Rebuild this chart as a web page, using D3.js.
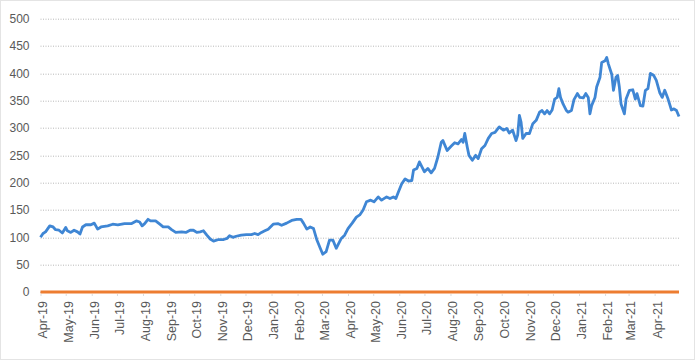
<!DOCTYPE html>
<html>
<head>
<meta charset="utf-8">
<script src="https://cdn.jsdelivr.net/npm/d3@7"></script>
<style>
  body { margin: 0; background: #fff; }
  text { font-family: "Liberation Sans", Arial, sans-serif; fill: #595959; }
</style>
</head>
<body>
<div id="chart"></div>
<script>
// dates (roughly every few days)
var dates = [
  "2019-04-01","2019-04-04","2019-04-07","2019-04-12","2019-04-16","2019-04-19","2019-04-23","2019-04-27",
  "2019-05-01","2019-05-03","2019-05-07","2019-05-11","2019-05-15","2019-05-18","2019-05-21","2019-05-25","2019-05-31",
  "2019-06-04","2019-06-08","2019-06-12","2019-06-20","2019-06-26",
  "2019-07-02","2019-07-10","2019-07-18","2019-07-24","2019-07-28","2019-07-31",
  "2019-08-03","2019-08-07","2019-08-10","2019-08-16","2019-08-21","2019-08-25","2019-08-31",
  "2019-09-04","2019-09-09","2019-09-16","2019-09-21","2019-09-26","2019-09-30",
  "2019-10-04","2019-10-08","2019-10-12","2019-10-16","2019-10-20","2019-10-24","2019-10-30",
  "2019-11-05","2019-11-09","2019-11-12","2019-11-16","2019-11-20","2019-11-26",
  "2019-12-02","2019-12-08","2019-12-12","2019-12-16","2019-12-20","2019-12-24","2019-12-28",
  "2020-01-03","2020-01-09","2020-01-13","2020-01-19","2020-01-25","2020-01-31",
  "2020-02-05","2020-02-08","2020-02-12","2020-02-16","2020-02-20","2020-02-24","2020-02-28",
  "2020-03-02","2020-03-06","2020-03-10","2020-03-14","2020-03-18","2020-03-24","2020-03-28",
  "2020-04-01","2020-04-06","2020-04-11","2020-04-15","2020-04-19","2020-04-23","2020-04-28",
  "2020-05-02","2020-05-07","2020-05-11","2020-05-17","2020-05-21","2020-05-25","2020-05-28","2020-05-31",
  "2020-06-04","2020-06-08","2020-06-12","2020-06-16","2020-06-18","2020-06-22","2020-06-25","2020-06-28",
  "2020-07-01","2020-07-05","2020-07-09","2020-07-13","2020-07-17","2020-07-21","2020-07-23","2020-07-28",
  "2020-08-02","2020-08-06","2020-08-10","2020-08-14","2020-08-16","2020-08-18","2020-08-21","2020-08-23","2020-08-27","2020-08-31",
  "2020-09-03","2020-09-07","2020-09-11","2020-09-15","2020-09-19","2020-09-23","2020-09-28",
  "2020-10-03","2020-10-07","2020-10-10","2020-10-14","2020-10-18","2020-10-20","2020-10-22","2020-10-24","2020-10-26","2020-10-30",
  "2020-11-03","2020-11-07","2020-11-11","2020-11-15","2020-11-18","2020-11-21","2020-11-24","2020-11-27","2020-11-30",
  "2020-12-03","2020-12-06","2020-12-08","2020-12-10","2020-12-13","2020-12-17","2020-12-19","2020-12-23","2020-12-26","2020-12-30",
  "2021-01-02","2021-01-06","2021-01-09","2021-01-12","2021-01-14","2021-01-16","2021-01-20","2021-01-22","2021-01-26","2021-01-28",
  "2021-02-01","2021-02-03","2021-02-05","2021-02-09","2021-02-11","2021-02-14","2021-02-16","2021-02-18","2021-02-20","2021-02-24","2021-02-26",
  "2021-03-02","2021-03-06","2021-03-09","2021-03-11","2021-03-15","2021-03-18","2021-03-21","2021-03-24","2021-03-27","2021-03-31",
  "2021-04-03","2021-04-07","2021-04-10","2021-04-13","2021-04-17","2021-04-21","2021-04-24","2021-04-27","2021-04-30"
];

var values = [
  100,107,110,121,119,114,113,108,
  118,112,109,113,110,106,119,123,123,
  126,115,119,121,124,
  123,125,125,130,128,121,
  125,133,130,130,124,119,119,
  114,109,110,109,113,113,
  109,110,112,104,97,93,96,
  96,98,103,100,102,104,
  105,105,107,105,109,112,115,
  124,125,122,126,131,133,
  133,126,115,119,116,95,80,
  69,74,95,95,80,98,104,
  116,126,137,141,150,165,168,
  165,174,168,174,171,174,171,183,
  198,207,203,204,223,226,238,229,
  220,226,218,226,247,274,277,259,
  267,273,271,279,274,290,265,250,241,250,
  244,262,268,281,290,292,302,
  296,299,291,296,277,287,323,311,281,290,
  290,308,314,329,332,326,332,326,333,
  353,356,372,356,344,332,329,332,352,363,
  356,355,363,356,326,341,356,375,393,420,
  423,429,417,398,369,393,396,375,344,326,353,
  369,370,353,363,341,340,369,372,400,396,
  387,365,356,369,353,333,335,332,321
];

// second series sits on zero the whole way
var baseValue = 0;

var yTicks = [0, 50, 100, 150, 200, 250, 300, 350, 400, 450, 500];
var startDate = "2019-04-01", endDate = "2021-04-30";

var W = 696, H = 362;
var margin = { top: 18.7, right: 17, bottom: 70, left: 40.5 };
var width = W - margin.left - margin.right,
  height = H - margin.top - margin.bottom;

var parse = d3.timeParse("%Y-%m-%d");
var data = dates.map(function (d, i) {
  return { date: parse(d), value: values[i] };
});

var svg = d3
  .select("#chart")
  .append("svg")
  .attr("width", W)
  .attr("height", H);

// outer chart border
svg
  .append("rect")
  .attr("x", 0.5)
  .attr("y", 0.5)
  .attr("width", W - 2)
  .attr("height", H - 3)
  .attr("fill", "none")
  .attr("stroke", "#c8c8c8")
  .attr("stroke-dasharray", "1,1");

var g = svg
  .append("g")
  .attr("transform", "translate(" + margin.left + "," + margin.top + ")");

var x = d3.scaleTime().domain([parse(startDate), parse(endDate)]).range([0, width]);
var y = d3.scaleLinear().domain([0, 500]).range([height, 0]);

// gridlines
g.selectAll(".grid")
  .data(yTicks)
  .enter()
  .append("line")
  .attr("x1", 0)
  .attr("x2", width)
  .attr("y1", function (d) { return Math.round(y(d)) + 0.5; })
  .attr("y2", function (d) { return Math.round(y(d)) + 0.5; })
  .attr("stroke", "#b8b8b8")
  .attr("stroke-width", 1)
  .attr("stroke-dasharray", "1,1.5");

// y axis labels
var yAxis = g.append("g").call(d3.axisLeft(y).tickValues(yTicks).tickSize(0).tickPadding(11));
yAxis.select(".domain").remove();
yAxis.selectAll("text").style("font-size", "12px").attr("fill", "#595959");

// x axis
var months = d3.timeMonth.range(parse(startDate), d3.timeDay.offset(parse(endDate), 1));
var xAxis = g
  .append("g")
  .attr("transform", "translate(0," + height + ")")
  .call(
    d3.axisBottom(x)
      .tickValues(months)
      .tickFormat(d3.timeFormat("%b-%y"))
      .tickSize(5)
  );
xAxis.select(".domain").remove();
xAxis.selectAll("line").attr("stroke", "#b8b8b8").attr("stroke-dasharray", "1,1.5");
xAxis
  .selectAll("text")
  .style("font-size", "12.5px")
  .attr("fill", "#595959")
  .attr("transform", "rotate(-90)")
  .attr("text-anchor", "end")
  .attr("x", -9)
  .attr("y", 2)
  .attr("dy", "0.35em");

// blue series
var line = d3
  .line()
  .x(function (d) { return x(d.date); })
  .y(function (d) { return y(d.value); })
  .curve(d3.curveLinear);

g.append("path")
  .datum(data)
  .attr("fill", "none")
  .attr("stroke", "#3f86d4")
  .attr("stroke-width", 2.8)
  .attr("stroke-linejoin", "round")
  .attr("d", line);

// orange series at zero
g.append("path")
  .datum([parse(startDate), parse(endDate)])
  .attr("fill", "none")
  .attr("stroke", "#ed7d31")
  .attr("stroke-width", 3)
  .attr("d", d3.line().x(function (d) { return x(d); }).y(function () { return y(baseValue); }));
</script>
</body>
</html>
